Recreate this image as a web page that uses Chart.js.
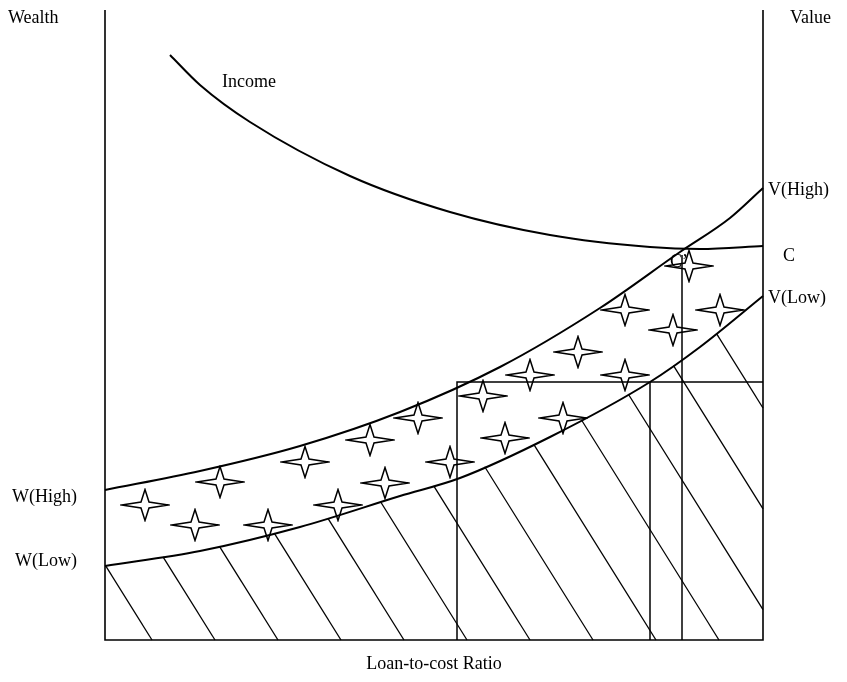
<!DOCTYPE html>
<html>
<head>
<meta charset="utf-8">
<script src="https://cdn.jsdelivr.net/npm/chart.js@4/dist/chart.umd.min.js"></script>
<style>
    body { margin: 0; background: #fff; }
    #wrap { width: 847px; height: 682px; }
</style>
</head>
<body>
<div id="wrap"><canvas id="myChart"></canvas></div>
<script>
// 座標はグラフ上の単位 (x: 105-763, y: 10-640, 下向き)
const incomeCurve = [[170, 55], [200, 85], [250, 122], [350, 176], [450, 212], [550, 235], [650, 247], [700, 249], [763, 246]];
const highCurve = [[105, 490], [200, 471], [300, 446], [400, 412], [500, 367], [600, 308], [680, 252], [730, 218], [763, 188]];
const lowCurve = [[105, 566], [200, 551], [300, 527], [400, 496], [460, 478], [550, 437], [650, 382], [700, 347], [763, 296]];
const guideLines = [
    [[457, 640], [457, 382], [763, 382]],
    [[650, 640], [650, 382]],
    [[682, 640], [682, 255]],
];
const hatchBottoms = [152, 215, 278, 341, 404, 467, 530, 593, 656, 719, 782, 845, 908];
const stars = [[145, 505], [195, 525], [220, 482], [268, 525], [305, 462], [338, 505], [370, 440], [385, 483], [418, 418], [450, 462],
    [483, 396], [505, 438], [530, 375], [563, 418], [578, 352], [625, 375], [625, 310], [673, 330], [689, 266], [720, 310]];
const labels = [
    ['Wealth', 8, 18, 'left'], ['Value', 790, 18, 'left'], ['Income', 222, 82, 'left'],
    ['V(High)', 768, 190, 'left'], ['C\u2019', 670, 262, 'left'], ['C', 783, 256, 'left'],
    ['V(Low)', 768, 298, 'left'], ['W(High)', 12, 497, 'left'], ['W(Low)', 15, 561, 'left'],
    ['Loan-to-cost Ratio', 434, 664, 'center'],
];

const SLOPE = 1.6;

/**
 * 折れ線上の x における y を求めます。
 */
const curveY = (curve, x) => {
    for (let i = 0; i < curve.length - 1; i++) {
        const [x1, y1] = curve[i];
        const [x2, y2] = curve[i + 1];
        if (x >= x1 && x <= x2) {
            return y1 + (y2 - y1) * (x - x1) / (x2 - x1);
        }
    }
    return curve[curve.length - 1][1];
};

/**
 * 斜線（ハッチング）を生成します。
 */
const createHatch = (xb) => {
    const lineY = (x) => 640 - SLOPE * (xb - x);
    let lo = 105;
    let hi = Math.min(xb, 763);
    if (lineY(lo) < curveY(lowCurve, lo)) {
        for (let i = 0; i < 40; i++) {
            const mid = (lo + hi) / 2;
            if (lineY(mid) < curveY(lowCurve, mid)) lo = mid; else hi = mid;
        }
    }
    const endX = Math.min(xb, 763);
    return [{ x: lo, y: lineY(lo) }, { x: endX, y: lineY(endX) }];
};

const toPoints = (arr) => arr.map(([x, y]) => ({ x: x, y: y }));

/**
 * 四方星の画像を生成します。
 */
const createStarImage = () => {
    const c = document.createElement('canvas');
    const w = 50, h = 34;
    c.width = w; c.height = h;
    const ctx = c.getContext('2d');
    const cx = w / 2, cy = h / 2, d = 4;
    ctx.beginPath();
    ctx.moveTo(cx, 1.5);
    ctx.lineTo(cx + d, cy - d + 1);
    ctx.lineTo(w - 1.5, cy);
    ctx.lineTo(cx + d, cy + d - 1);
    ctx.lineTo(cx, h - 1.5);
    ctx.lineTo(cx - d, cy + d - 1);
    ctx.lineTo(1.5, cy);
    ctx.lineTo(cx - d, cy - d + 1);
    ctx.closePath();
    ctx.fillStyle = '#fff';
    ctx.fill();
    ctx.lineWidth = 1.5;
    ctx.strokeStyle = '#000';
    ctx.stroke();
    return c;
};

const lineSet = (data, width, smooth) => ({
    data: data,
    borderColor: '#000',
    borderWidth: width,
    pointRadius: 0,
    fill: false,
    tension: smooth ? 0.4 : 0,
    cubicInterpolationMode: smooth ? 'monotone' : 'default',
});

const datasets = [];
hatchBottoms.forEach((xb) => datasets.push(lineSet(createHatch(xb), 1.3, false)));
guideLines.forEach((g) => datasets.push(lineSet(toPoints(g), 1.5, false)));
datasets.push(lineSet(toPoints([[105, 10], [105, 640], [763, 640], [763, 10]]), 1.6, false));
datasets.push(lineSet(toPoints(incomeCurve), 2, true));
datasets.push(lineSet(toPoints(highCurve), 2, true));
datasets.push(lineSet(toPoints(lowCurve), 2, true));
datasets.push({
    type: 'scatter',
    data: toPoints(stars),
    pointStyle: createStarImage(),
    pointRadius: 20,
    pointHoverRadius: 20,
});

const textPlugin = {
    id: 'texts',
    afterDraw: (chart) => {
        const ctx = chart.ctx;
        const xs = chart.scales.x;
        const ys = chart.scales.y;
        ctx.save();
        ctx.font = '18px "Liberation Serif", "Times New Roman", serif';
        ctx.fillStyle = '#000';
        ctx.textBaseline = 'middle';
        labels.forEach(([t, x, y, align]) => {
            ctx.textAlign = align;
            ctx.fillText(t, xs.getPixelForValue(x), ys.getPixelForValue(y));
        });
        ctx.restore();
    },
};

new Chart(document.getElementById('myChart'), {
    type: 'line',
    data: { datasets: datasets },
    options: {
        responsive: true,
        maintainAspectRatio: false,
        animation: false,
        layout: { padding: { left: 105, right: 84, top: 10, bottom: 42 } },
        plugins: { legend: { display: false }, tooltip: { enabled: false } },
        scales: {
            x: { type: 'linear', min: 105, max: 763, display: false },
            y: { type: 'linear', min: 21, max: 640, reverse: true, display: false },
        },
        clip: false,
    },
    plugins: [textPlugin],
});
</script>
</body>
</html>
